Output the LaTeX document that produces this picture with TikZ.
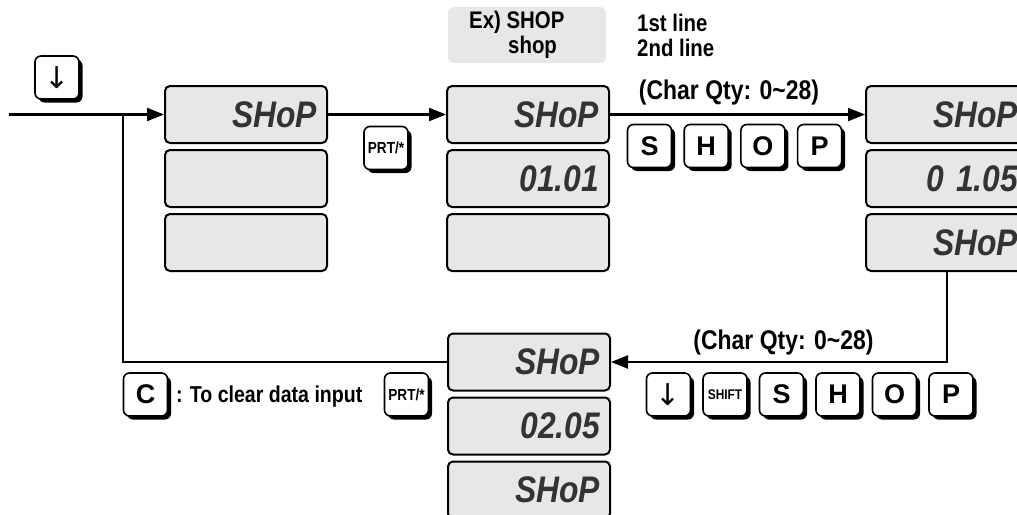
\documentclass[tikz,border=0pt]{standalone}
\usepackage{fontspec}
\setmainfont{Liberation Sans}
\newfontfamily\labfont[FakeStretch=0.85]{Liberation Sans}
\newfontfamily\segfont[FakeStretch=0.86]{Liberation Sans}
\newfontfamily\symfont{DejaVu Sans}
\usetikzlibrary{arrows.meta,shadows}
\definecolor{dispgray}{HTML}{E6E7E8}
\definecolor{segtext}{HTML}{333333}
\tikzset{
  disp/.style={draw, line width=2pt, fill=dispgray, rounded corners=5pt,
    minimum width=162pt, minimum height=57pt, text width=142pt, inner xsep=10pt, inner ysep=0pt,
    align=right, text=segtext, font=\segfont\bfseries\itshape\fontsize{37}{37}\selectfont},
  keybox/.style={draw, line width=1.6pt, fill=white, rounded corners=6pt,
    minimum width=44pt, minimum height=43pt, inner sep=0pt,
    general shadow={fill=black, shadow xshift=3.5pt, shadow yshift=-3.5pt},
    font=\bfseries\fontsize{27}{27}\selectfont},
  smallkey/.style={keybox, font=\labfont\bfseries\fontsize{16}{16}\selectfont},
  lab/.style={inner sep=0pt, font=\labfont\bfseries\fontsize{24}{25}\selectfont},
  flow/.style={line width=2.2pt},
  arr/.style={flow, -{Triangle[length=17pt, width=13pt]}}
}
\begin{document}
\begin{tikzpicture}[x=1pt, y=-1pt]
\useasboundingbox (0,0) rectangle (1017,514);
\clip (0,0) rectangle (1017,514);

% example box
\node (ex) [fill=dispgray, rounded corners=6pt, minimum width=158pt, minimum height=56pt,
  inner sep=0pt] at (527,35) {};
\node (exT) [lab, anchor=west, align=left] at (469,35) {Ex) SHOP\\\hspace*{39pt}shop};
\node (lines) [lab, anchor=west, align=left] at (637,35) {1st line\\2nd line};

% displays left column
\node (L1) [disp] at (246,114.5) {SHoP};
\node (L2) [disp] at (246,178.5) {};
\node (L3) [disp] at (246,242.5) {};
% middle column
\node (M1) [disp] at (528,114.5) {SHoP};
\node (M2) [disp] at (528,178.5) {01.01};
\node (M3) [disp] at (528,242.5) {};
% right column
\node (R1) [disp] at (947,114.5) {SHoP};
\node (R2) [disp] at (947,178.5) {0 1.05};
\node (R3) [disp] at (947,242.5) {SHoP};
% bottom column
\node (B1) [disp] at (529,362) {SHoP};
\node (B2) [disp] at (529,426) {02.05};
\node (B3) [disp] at (529,490) {SHoP};

% keys
\node (kdown) [keybox, font=\symfont\fontsize{30}{30}\selectfont] at (57,77.5) {↓};
\node (kprt1) [smallkey] at (386,148) {PRT/*};
\node (kS1) [keybox] at (649.5,146) {S};
\node (kH1) [keybox] at (706.2,146) {H};
\node (kO1) [keybox] at (762.9,146) {O};
\node (kP1) [keybox] at (819.6,146) {P};

\node (kC) [keybox] at (145.5,394.5) {C};
\node (clr) [lab, anchor=west, font=\labfont\bfseries\fontsize{23}{23}\selectfont] at (176,397) {: To clear data input};
\node (kprt2) [smallkey] at (406.5,394.5) {PRT/*};
\node (kdown2) [keybox, font=\symfont\fontsize{30}{30}\selectfont] at (668.5,394.5) {↓};
\node (kshift) [smallkey, font=\labfont\bfseries\fontsize{14}{14}\selectfont] at (725,394.5) {SHIFT};
\node (kS2) [keybox] at (781.5,394.5) {S};
\node (kH2) [keybox] at (838,394.5) {H};
\node (kO2) [keybox] at (894.5,394.5) {O};
\node (kP2) [keybox] at (951,394.5) {P};

% labels
\node (cq1) [lab, font=\labfont\bfseries\fontsize{27}{27}\selectfont] at (729,93) {(Char Qty: 0\textasciitilde 28)};
\node (cq2) [lab, font=\labfont\bfseries\fontsize{27}{27}\selectfont] at (783.5,343) {(Char Qty: 0\textasciitilde 28)};

% connectors
\coordinate (start) at (9,114.5);
\coordinate (J) at (123,114.5);
\coordinate (JB) at (123,362);
\coordinate (RB) at (947,362);
\draw[arr] (start) -- (L1.west);
\draw[flow] (B1.west) -- (JB) -- (J);
\draw[arr] (L1.east) -- (M1.west);
\draw[arr] (M1.east) -- (R1.west);
\draw[arr] (R3.south) -- (RB) -- (B1.east);
\end{tikzpicture}
\end{document}
